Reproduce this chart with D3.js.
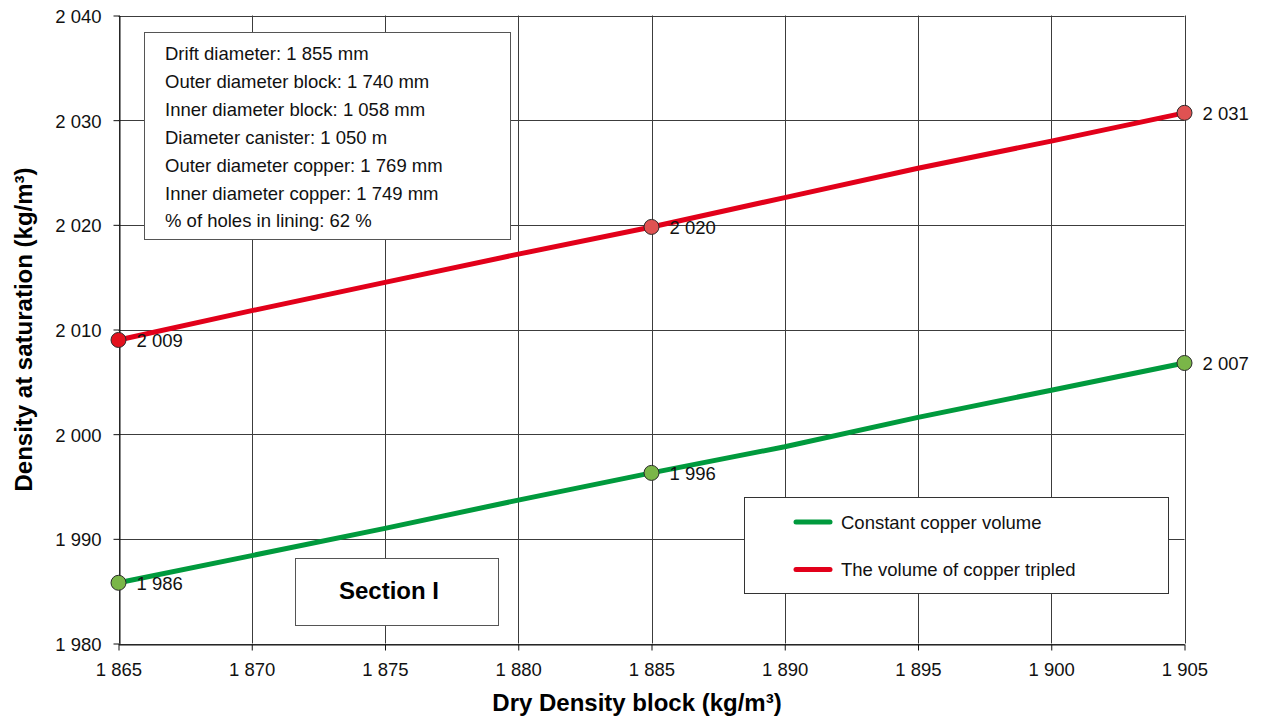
<!DOCTYPE html>
<html>
<head>
<meta charset="utf-8">
<script src="https://cdn.jsdelivr.net/npm/d3@7"></script>
<style>
  body { margin: 0; background: #fff; }
  svg { display: block; font-family: 'Liberation Sans', Arial, sans-serif; }
</style>
</head>
<body>
<div id="chart-area"></div>
<script>
// dry density of the block (x) and density at saturation for both cases
let dryDensity = [1865, 1870, 1875, 1880, 1885, 1890, 1895, 1900, 1905];
let constantCopper = [1985.8, 1988.4, 1991.0, 1993.7, 1996.3, 1998.8, 2001.6, 2004.2, 2006.8];
let copperTripled = [2009.0, 2011.8, 2014.5, 2017.2, 2019.8, 2022.6, 2025.4, 2028.0, 2030.7];
let labelledPoints = [0, 4, 8];
let xTicks = [1865, 1870, 1875, 1880, 1885, 1890, 1895, 1900, 1905];
let yTicks = [1980, 1990, 2000, 2010, 2020, 2030, 2040];
let seriesNames = ['Constant copper volume', 'The volume of copper tripled'];
let infoLines = [
  'Drift diameter: 1 855 mm',
  'Outer diameter block: 1 740 mm',
  'Inner diameter block: 1 058 mm',
  'Diameter canister: 1 050 m',
  'Outer diameter copper: 1 769 mm',
  'Inner diameter copper: 1 749 mm',
  '% of holes in lining: 62 %',
];

let width = 1265;
let height = 720;
let padding = { left: 118.5, top: 15.5, right: 80.5, bottom: 76.5 };

let locale = d3.formatLocale({ decimal: ',', thousands: ' ', grouping: [3], currency: ['', ''] });
let fmt = locale.format(',d');

let chart = d3
  .select('#chart-area')
  .append('svg')
  .attr('width', width)
  .attr('height', height);

let x = d3.scaleLinear().domain([1865, 1905]).range([padding.left, width - padding.right]);
let y = d3.scaleLinear().domain([1980, 2040]).range([height - padding.bottom, padding.top]);

//grid
let grid = chart.append('g').attr('stroke', '#3c3c3c').attr('stroke-width', 1);
grid
  .selectAll('.vgrid')
  .data(xTicks)
  .enter()
  .append('line')
  .attr('x1', (d) => Math.round(x(d)) + 0.5)
  .attr('x2', (d) => Math.round(x(d)) + 0.5)
  .attr('y1', y(2040))
  .attr('y2', y(1980));
grid
  .selectAll('.hgrid')
  .data(yTicks)
  .enter()
  .append('line')
  .attr('y1', (d) => Math.round(y(d)) + 0.5)
  .attr('y2', (d) => Math.round(y(d)) + 0.5)
  .attr('x1', x(1865))
  .attr('x2', x(1905));

//axes
let xAxis = chart
  .append('g')
  .attr('transform', `translate(0, ${Math.round(y(1980)) + 0.5})`)
  .call(d3.axisBottom(x).tickValues(xTicks).tickFormat(fmt).tickSize(6).tickPadding(12).tickSizeOuter(0));
let yAxis = chart
  .append('g')
  .attr('transform', `translate(${Math.round(x(1865)) + 0.5}, 0)`)
  .call(d3.axisLeft(y).tickValues(yTicks).tickFormat(fmt).tickSize(6).tickPadding(12).tickSizeOuter(0));
[xAxis, yAxis].forEach((a) => {
  a.selectAll('text').style('font-size', '18.5px').style('font-family', 'Liberation Sans, Arial, sans-serif').attr('fill', '#111');
  a.selectAll('line, path').attr('stroke', '#111');
});
yAxis.selectAll('text').attr('dy', '0.38em');

//axis titles
chart
  .append('text')
  .attr('x', 637)
  .attr('y', 711)
  .attr('text-anchor', 'middle')
  .style('font-size', '24px')
  .style('font-weight', 'bold')
  .text('Dry Density block (kg/m³)');
chart
  .append('text')
  .attr('transform', `translate(32, ${(y(1980) + y(2040)) / 2}) rotate(-90)`)
  .attr('text-anchor', 'middle')
  .style('font-size', '24px')
  .style('font-weight', 'bold')
  .text('Density at saturation (kg/m³)');

//series
let series = [
  { name: seriesNames[0], values: constantCopper, line: '#009a3d', marker: ['#7ab648', '#7ab648', '#7ab648'] },
  { name: seriesNames[1], values: copperTripled, line: '#e2001a', marker: ['#e3111d', '#e05252', '#e05252'] },
];
let line = d3
  .line()
  .x((d, i) => x(dryDensity[i]))
  .y((d) => y(d));

series.forEach((s) => {
  chart
    .append('path')
    .datum(s.values)
    .attr('fill', 'none')
    .attr('stroke', s.line)
    .attr('stroke-width', 5)
    .attr('stroke-linejoin', 'round')
    .attr('d', line);
});

series.forEach((s) => {
  let pts = chart.append('g');
  pts
    .selectAll('circle')
    .data(labelledPoints)
    .enter()
    .append('circle')
    .attr('cx', (i) => x(dryDensity[i]))
    .attr('cy', (i) => y(s.values[i]))
    .attr('r', 7.5)
    .attr('fill', (i, k) => s.marker[k])
    .attr('stroke', '#2a2a2a')
    .attr('stroke-width', 1);
  pts
    .selectAll('text')
    .data(labelledPoints)
    .enter()
    .append('text')
    .attr('x', (i) => x(dryDensity[i]) + 18)
    .attr('y', (i) => y(s.values[i]) + 1)
    .attr('dy', '0.35em')
    .style('font-size', '18.5px')
    .attr('fill', '#111')
    .text((i) => fmt(Math.round(s.values[i])));
});

//info box
let info = chart.append('g');
info
  .append('rect')
  .attr('x', 144.5)
  .attr('y', 32.5)
  .attr('width', 366)
  .attr('height', 207)
  .attr('fill', '#fff')
  .attr('stroke', '#555');
info
  .selectAll('text')
  .data(infoLines)
  .enter()
  .append('text')
  .attr('x', 165)
  .attr('y', (d, i) => 60 + i * 27.9)
  .style('font-size', '18.5px')
  .attr('fill', '#111')
  .text((d) => d);

//section label
chart
  .append('rect')
  .attr('x', 295.5)
  .attr('y', 558.5)
  .attr('width', 203)
  .attr('height', 67)
  .attr('fill', '#fff')
  .attr('stroke', '#555');
chart
  .append('text')
  .attr('x', 339)
  .attr('y', 599)
  .style('font-size', '24px')
  .style('font-weight', 'bold')
  .text('Section I');

//legend
let legend = chart.append('g');
legend
  .append('rect')
  .attr('x', 744.5)
  .attr('y', 497.5)
  .attr('width', 424)
  .attr('height', 96)
  .attr('fill', '#fff')
  .attr('stroke', '#333');
let rows = legend
  .selectAll('g')
  .data(series)
  .enter()
  .append('g')
  .attr('transform', (d, i) => `translate(0, ${522 + i * 47.5})`);
rows
  .append('line')
  .attr('x1', 796)
  .attr('x2', 830)
  .attr('stroke', (d) => d.line)
  .attr('stroke-width', 5)
  .attr('stroke-linecap', 'round');
rows
  .append('text')
  .attr('x', 841)
  .attr('dy', '0.36em')
  .style('font-size', '18.5px')
  .attr('fill', '#111')
  .text((d) => d.name);
</script>
</body>
</html>
